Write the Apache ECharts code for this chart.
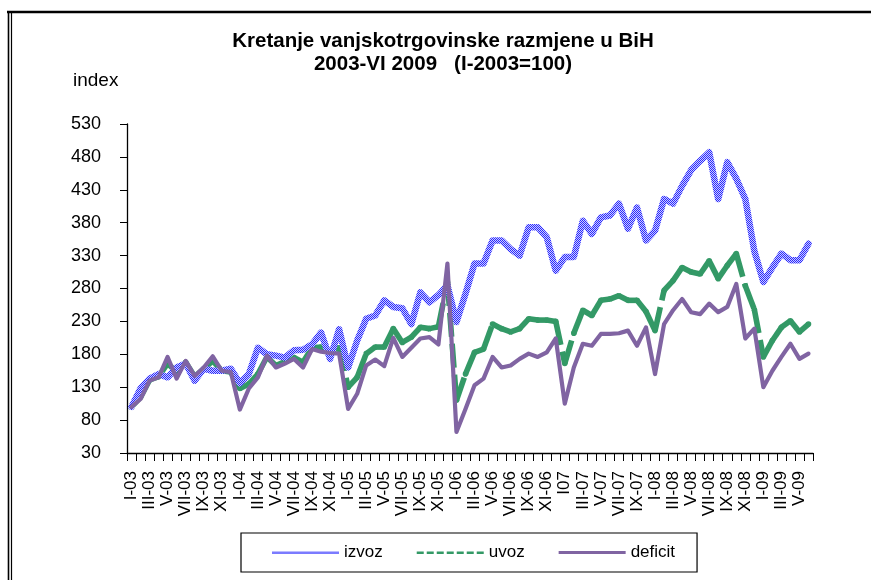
<!DOCTYPE html>
<html>
<head>
<meta charset="utf-8">
<title>Kretanje vanjskotrgovinske razmjene u BiH</title>
<script src="https://cdn.jsdelivr.net/npm/echarts@6/dist/echarts.min.js"></script>
<style>
  html, body { margin: 0; padding: 0; background: #fff; }
  #chart { width: 871px; height: 580px; }
</style>
</head>
<body>
<div id="chart"></div>
<script>
// months I-2003 .. VI-2009 (2007 has only 10 months in the source)
const months = [
  'I-03','II-03','III-03','IV-03','V-03','VI-03','VII-03','VIII-03','IX-03','X-03','XI-03','XII-03',
  'I-04','II-04','III-04','IV-04','V-04','VI-04','VII-04','VIII-04','IX-04','X-04','XI-04','XII-04',
  'I-05','II-05','III-05','IV-05','V-05','VI-05','VII-05','VIII-05','IX-05','X-05','XI-05','XII-05',
  'I-06','II-06','III-06','IV-06','V-06','VI-06','VII-06','VIII-06','IX-06','X-06','XI-06','XII-06',
  'I07','II-07','III-07','IV-07','V-07','VI-07','VII-07','VIII-07','IX-07','X-07',
  'I-08','II-08','III-08','IV-08','V-08','VI-08','VII-08','VIII-08','IX-08','X-08','XI-08','XII-08',
  'I-09','II-09','III-09','IV-09','V-09','VI-09'
]

const izvoz = [
  100, 128, 143, 150, 145, 160, 166, 140, 158, 155, 155, 158,
  136, 150, 190, 180, 178, 175, 186, 187, 195, 213, 173, 218,
  160, 201, 234, 239, 262, 252, 250, 226, 274, 259, 270, 285,
  229, 272, 318, 318, 353, 353, 340, 330, 373, 373, 358, 307,
  328, 328, 383, 363, 388, 391, 409, 371, 403, 353,
  368, 416, 409, 436, 460, 474, 487, 416, 472, 447, 416, 337,
  290, 312, 333, 323, 323, 348
]

const uvoz = [
  100, 115, 141, 146, 166, 153, 168, 146, 158, 170, 155, 153,
  128, 135, 150, 176, 163, 169, 175, 168, 190, 191, 185, 190,
  130, 145, 181, 191, 191, 219, 198, 206, 221, 219, 222, 290,
  110, 150, 183, 188, 226, 219, 214, 219, 234, 232, 232, 230,
  166, 212, 247, 239, 262, 264, 269, 262, 262, 245,
  216, 277, 292, 312, 305, 302, 322, 295, 315, 333, 284, 248,
  176, 201, 221, 231, 214, 226
]

const deficit = [
  100, 112, 140, 145, 176, 143, 170, 147, 160, 177, 155, 153,
  96, 128, 145, 178, 160, 166, 173, 160, 188, 184, 182, 181,
  97, 120, 163, 172, 162, 205, 176, 190, 204, 206, 195, 318,
  62, 97, 133, 143, 176, 160, 163, 173, 181, 176, 183, 204,
  105, 160, 196, 193, 211, 211, 212, 216, 193, 221,
  150, 226, 247, 264, 244, 241, 257, 244, 252, 287, 204, 219,
  130, 155, 176, 196, 173, 181
]

const FONT = '"Liberation Sans", Arial, sans-serif'
const GREEN = '#339966'
const PURPLE = '#8064a2'

// checkered blue texture, like the old excel pattern line
const tex = document.createElement('canvas')
tex.width = 2
tex.height = 2
const tc = tex.getContext('2d')
tc.fillStyle = '#ccccff'
tc.fillRect(0, 0, 2, 2)
tc.fillStyle = '#2a2aff'
tc.fillRect(0, 0, 1, 1)
tc.fillRect(1, 1, 1, 1)
const BLUE = { image: tex, repeat: 'repeat' }

// uvoz: each segment gets its own dash pattern (restarts at every point)
const uvozSegs = uvoz.map((v, i) => [i, v, i + 1 < uvoz.length ? uvoz[i + 1] : v])

const renderUvoz = (params, api) => {
  const i = api.value(0)
  const p0 = api.coord([i, api.value(1)])
  const children = [{
    type: 'circle',
    shape: { cx: p0[0], cy: p0[1], r: 2.8 },
    style: { fill: GREEN }
  }]
  if (i < uvoz.length - 1) {
    const p1 = api.coord([i + 1, api.value(2)])
    children.push({
      type: 'line',
      shape: { x1: p0[0], y1: p0[1], x2: p1[0], y2: p1[1] },
      style: { stroke: GREEN, lineWidth: 5.6, lineDash: [24, 7], lineCap: 'butt' }
    })
  }
  return { type: 'group', children: children }
}

// legend icons: thin line strips inside a 67x16 box
const BOX_TOP = 'path://M0,0h0.01v0.01h-0.01z'
const BOX_BOTTOM = 'M0,16h0.01v-0.01h-0.01z'
let dashIcon = BOX_TOP
for (let k = 0; k < 7; k++) {
  dashIcon += 'M' + (k * 10) + ',7h7v2.6h-7z'
}
dashIcon += BOX_BOTTOM
const blueIcon = BOX_TOP + 'M0,7h67v2.4h-67z' + BOX_BOTTOM
const solidIcon = BOX_TOP + 'M0,6.6h67v3h-67z' + BOX_BOTTOM

const chart = echarts.init(document.getElementById('chart'))

const option = {
  backgroundColor: '#fff',
  animation: false,
  title: {
    text: 'Kretanje vanjskotrgovinske razmjene u BiH\n2003-VI 2009   (I-2003=100)',
    left: 443,
    top: 30,
    textAlign: 'center',
    padding: 0,
    textStyle: { fontFamily: FONT, fontSize: 20.5, fontWeight: 'bold', lineHeight: 23, color: '#000' }
  },
  graphic: [
    { type: 'line', shape: { x1: 7, y1: 12, x2: 871, y2: 12 }, style: { stroke: '#000', lineWidth: 2.5 } },
    { type: 'line', shape: { x1: 8.5, y1: 11, x2: 8.5, y2: 580 }, style: { stroke: '#000', lineWidth: 1.6 } },
    { type: 'line', shape: { x1: 11.5, y1: 13, x2: 11.5, y2: 580 }, style: { stroke: '#000', lineWidth: 1.2 } },
    { type: 'text', left: 73, top: 71, style: { text: 'index', font: '19px ' + FONT, fill: '#000' } }
  ],
  legend: {
    left: 241,
    top: 533,
    orient: 'horizontal',
    itemWidth: 67,
    itemHeight: 16,
    itemGap: 34,
    padding: [11, 22, 11, 31],
    borderColor: '#000',
    borderWidth: 1.2,
    textStyle: { fontFamily: FONT, fontSize: 17, color: '#000' },
    data: [
      { name: 'izvoz', icon: blueIcon, itemStyle: { color: BLUE, borderWidth: 0 } },
      { name: 'uvoz', icon: dashIcon, itemStyle: { color: GREEN, borderWidth: 0 } },
      { name: 'deficit', icon: solidIcon, itemStyle: { color: PURPLE, borderWidth: 0 } }
    ]
  },
  grid: {
    left: 127,
    right: 58,
    top: 124,
    bottom: 127,
    outerBoundsMode: 'none'
  },
  xAxis: {
    type: 'category',
    data: months,
    boundaryGap: true,
    axisLine: { show: true, lineStyle: { color: '#000', width: 1.3 } },
    axisTick: { show: true, interval: 0, length: 8, lineStyle: { color: '#000' } },
    axisLabel: {
      interval: 1,
      rotate: 90,
      margin: 18,
      fontFamily: FONT,
      fontSize: 17,
      color: '#000'
    },
    splitLine: { show: false }
  },
  yAxis: {
    type: 'value',
    min: 30,
    max: 530,
    interval: 50,
    axisLine: { show: true, lineStyle: { color: '#000', width: 1.3 } },
    axisTick: { show: true, length: 7, lineStyle: { color: '#000' } },
    axisLabel: { margin: 26, fontFamily: FONT, fontSize: 18, color: '#000' },
    splitLine: { show: false }
  },
  series: [
    {
      name: 'izvoz',
      type: 'line',
      data: izvoz,
      symbol: 'none',
      color: BLUE,
      lineStyle: { color: BLUE, width: 6.5, join: 'round', cap: 'round' }
    },
    {
      name: 'uvoz',
      type: 'custom',
      data: uvozSegs,
      itemStyle: { color: GREEN },
      renderItem: renderUvoz,
      encode: { x: 0, y: 1 }
    },
    {
      name: 'deficit',
      type: 'line',
      data: deficit,
      symbol: 'none',
      color: PURPLE,
      lineStyle: { color: PURPLE, width: 4.2, join: 'round', cap: 'round' }
    }
  ]
}

chart.setOption(option)
</script>
</body>
</html>
